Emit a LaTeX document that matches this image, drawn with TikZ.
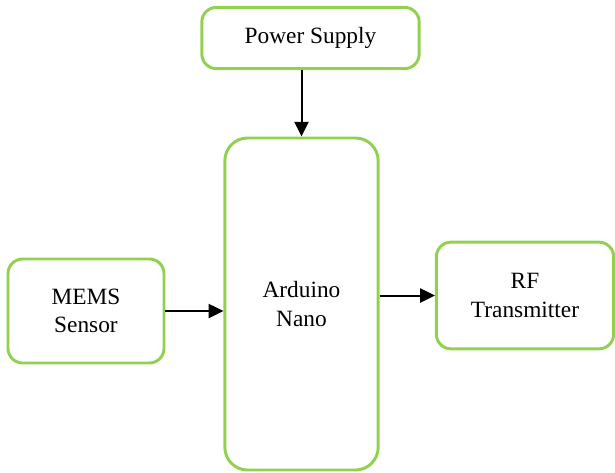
\documentclass[tikz,border=0pt]{standalone}
\usepackage{fontspec}
\setmainfont{Liberation Serif}
\usetikzlibrary{arrows.meta}

\begin{document}
\begin{tikzpicture}[x=0.75pt,y=-0.75pt]

% Define the colors
\definecolor{blockgreen}{RGB}{146,208,80}

% Define the styles
\tikzset{
  block/.style={draw=blockgreen, line width=2.2pt, fill=white, rounded corners=11pt,
    align=center, inner sep=2pt, font=\fontsize{17.5}{21.5}\selectfont},
  arrow/.style={line width=1.5pt, -{Triangle[length=11pt,width=10.5pt]}}
}

% Fix the margins
\useasboundingbox (0,0) rectangle (615,472);

% Draw the blocks
\node[block, minimum width=163pt, minimum height=46pt] (power) at (310.5,38) {Power Supply};
\node[block, minimum width=115pt, minimum height=249pt, rounded corners=17pt] (arduino) at (301.5,304) {Arduino\\Nano};
\node[block, minimum width=117pt, minimum height=78pt] (mems) at (86,311) {MEMS\\Sensor};
\node[block, minimum width=133pt, minimum height=80pt] (rf) at (525,295.5) {RF\\Transmitter};

% Draw the arrows
\draw[arrow] (power.south -| arduino.north) -- (arduino.north);
\draw[arrow] (mems.east) -- (mems.east -| arduino.west);
\draw[arrow] (rf.west -| arduino.east) -- (rf.west);

\end{tikzpicture}
\end{document}
